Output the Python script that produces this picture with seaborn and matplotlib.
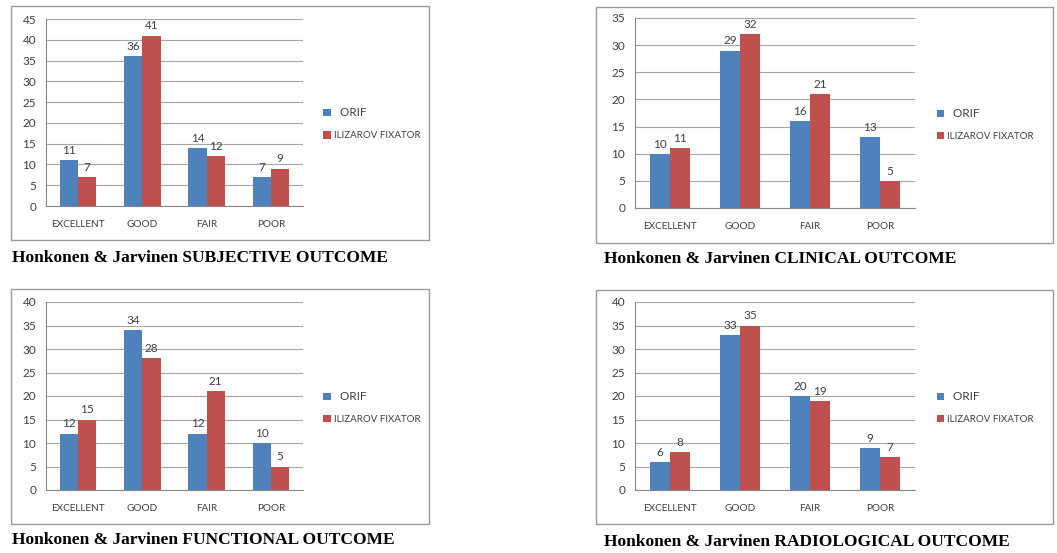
import numpy as np
import pandas as pd
import matplotlib
matplotlib.use('Agg')
import matplotlib.pyplot as plt
from matplotlib.patches import Rectangle
import seaborn as sns

# chart values
categories = ['EXCELLENT', 'GOOD', 'FAIR', 'POOR']
series_names = ['ORIF', 'ILIZAROV FIXATOR']

subjective_orif = [11, 36, 14, 7]
subjective_ilizarov = [7, 41, 12, 9]
clinical_orif = [10, 29, 16, 13]
clinical_ilizarov = [11, 32, 21, 5]
functional_orif = [12, 34, 12, 10]
functional_ilizarov = [15, 28, 21, 5]
radiological_orif = [6, 33, 20, 9]
radiological_ilizarov = [8, 35, 19, 7]

captions = ['Honkonen & Jarvinen SUBJECTIVE OUTCOME',
            'Honkonen & Jarvinen CLINICAL OUTCOME',
            'Honkonen & Jarvinen FUNCTIONAL OUTCOME',
            'Honkonen & Jarvinen RADIOLOGICAL OUTCOME']
y_max = [45, 35, 40, 40]

sns.set_theme(style='white')
plt.rcParams['font.family'] = ['Lato', 'DejaVu Sans']

W, H = 1057, 553
fig = plt.figure(figsize=(W / 100, H / 100), dpi=100)
palette = {'ORIF': '#4F81BD', 'ILIZAROV FIXATOR': '#C0504D'}

# pixel layout: axes (left, right, top, bottom), box (x0, y0, x1, y1), caption (x, y)
axes_px = [(46, 303, 19, 206), (635, 915, 18, 208), (46, 303, 302, 490), (635, 915, 302, 490)]
box_px = [(11, 6, 429, 240), (596, 7, 1053, 243), (11, 289, 429, 524), (596, 290, 1053, 524)]
caption_px = [(12, 258), (604, 259), (12, 540), (604, 542)]

panels = [(subjective_orif, subjective_ilizarov), (clinical_orif, clinical_ilizarov),
          (functional_orif, functional_ilizarov), (radiological_orif, radiological_ilizarov)]

for i, (orif, iliz) in enumerate(panels):
    x0, y0, x1, y1 = box_px[i]
    fig.patches.append(Rectangle((x0 / W, 1 - y1 / H), (x1 - x0) / W, (y1 - y0) / H,
                                 transform=fig.transFigure, fill=False,
                                 edgecolor='#9a9a9a', linewidth=1.0))

    l, r, t, b = axes_px[i]
    ax = fig.add_axes([l / W, 1 - b / H, (r - l) / W, (b - t) / H])
    df = pd.DataFrame({'category': categories * 2,
                       'value': orif + iliz,
                       'series': [series_names[0]] * 4 + [series_names[1]] * 4})
    sns.barplot(data=df, x='category', y='value', hue='series', palette=palette,
                width=0.57, gap=0, saturation=1, linewidth=0, ax=ax)

    for cont in ax.containers:
        ax.bar_label(cont, padding=3, fontsize=8.5, color='#404040')

    ax.set_ylim(0, y_max[i])
    ax.set_yticks(np.arange(0, y_max[i] + 1, 5))
    ax.set_xlim(-0.5, 3.5)
    ax.set_xticks([0, 1, 2, 3])
    ax.set_xticks([-0.5, 0.5, 1.5, 2.5, 3.5], minor=True)
    ax.tick_params(axis='x', which='major', length=0, pad=10, labelsize=7.2, labelcolor='#404040')
    ax.tick_params(axis='x', which='minor', length=4, color='#868686', width=0.8, direction='out')
    ax.tick_params(axis='y', length=3, color='#868686', width=0.8, direction='out',
                   labelsize=8.5, labelcolor='#404040', pad=4)
    ax.set_xlabel('')
    ax.set_ylabel('')
    ax.yaxis.grid(True, color='#a6a6a6', linewidth=0.8)
    ax.set_axisbelow(True)
    sns.despine(ax=ax)
    for side in ['left', 'bottom']:
        ax.spines[side].set_color('#868686')
        ax.spines[side].set_linewidth(0.8)

    sns.move_legend(ax, 'center left', bbox_to_anchor=(1.06, 0.44), title=None,
                    frameon=False, fontsize=7, handlelength=0.8, handleheight=0.8,
                    handletextpad=0.3, labelspacing=1.35, borderpad=0)
    leg_texts = ax.get_legend().get_texts()
    for txt in leg_texts:
        txt.set_color('#404040')
    leg_texts[0].set_text('  ORIF')
    leg_texts[0].set_fontsize(8.5)

    cx, cy = caption_px[i]
    fig.text(cx / W, 1 - cy / H, captions[i], family=['Liberation Serif'],
             fontweight='bold', fontsize=12.5, va='center', ha='left', color='black')

fig.savefig('out.png', dpi=100)
